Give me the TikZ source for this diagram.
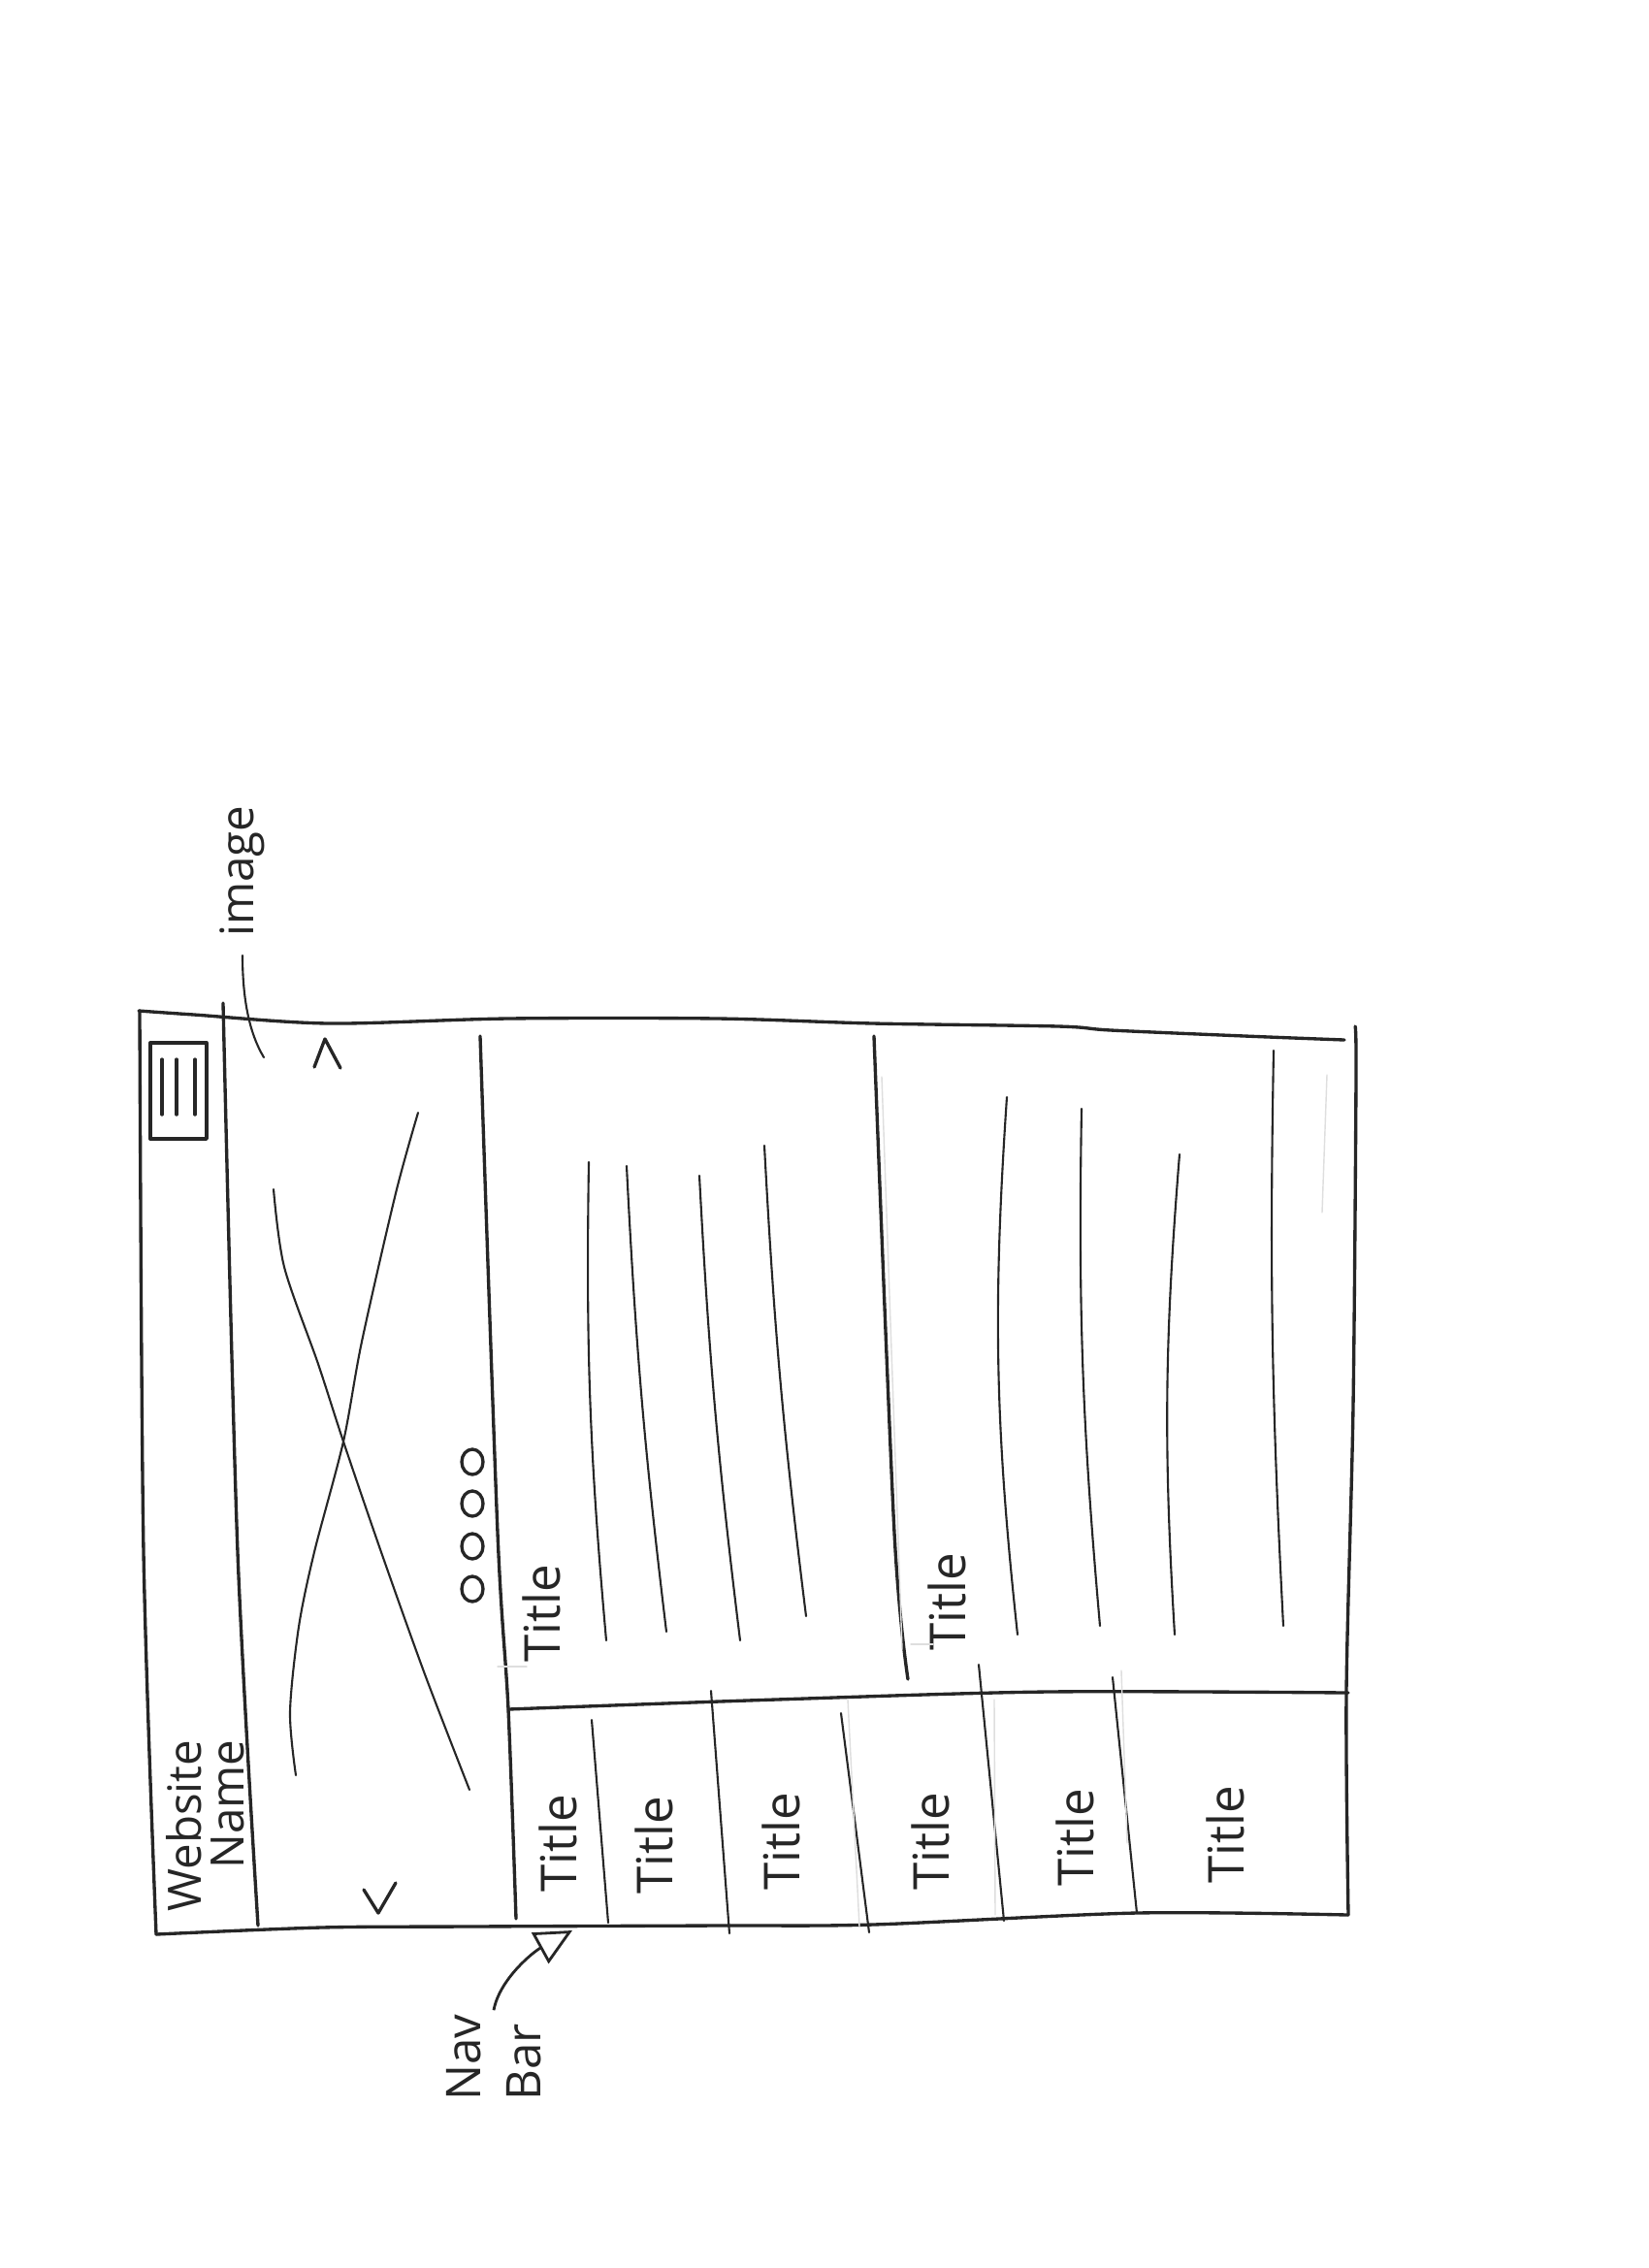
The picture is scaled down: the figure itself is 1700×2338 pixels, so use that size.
\documentclass[tikz,border=0pt]{standalone}
\usepackage{fontspec}
\setmainfont{Open Sans}
\usetikzlibrary{arrows.meta, positioning, calc}

\begin{document}
\begin{tikzpicture}[
            x=0.01cm, y=-0.01cm,
            wf frame/.style ={line width=0.95pt, draw=black!85, line cap=round, line join=round},
            wf line/.style  ={line width=0.6pt, draw=black!85, line cap=round},
            wf guide/.style ={line width=0.4pt, draw=black!13, line cap=round},
            wf text/.style  ={rotate=90, text=black!85, inner sep=1pt, font=\fontsize{14.5}{17}\selectfont},
            arr/.style      ={-{Triangle[open, length=0.38cm, width=0.36cm, line width=0.8pt]}, line width=0.8pt, draw=black!85}
        ]
        \path[use as bounding box, fill=white] (0,0) rectangle (1700,2338);

        %% ---- page frame (hand drawn, slightly wavy) ------------------------
        \draw[wf frame] plot[smooth] coordinates {(143,1042) (200,1046) (339,1055) (523,1050)
            (740,1050) (900,1055) (1091,1058) (1145,1062) (1283,1068) (1386,1072)};
        \draw[wf frame] plot[smooth] coordinates {(1397,1058) (1398,1110) (1395,1450) (1388,1745) (1390,1974)};
        \draw[wf frame] plot[smooth] coordinates {(1390,1974) (1172,1972) (900,1984) (740,1985)
            (480,1986) (331,1987) (161,1994)};
        \draw[wf frame] plot[smooth] coordinates {(161,1994) (148,1600) (144,1042)};

        %% ---- header strip: menu icon + site name ---------------------------
        \draw[wf frame] plot[smooth] coordinates {(230,1034) (245,1600) (266,1985)};
        \draw[wf frame] (155,1075) rectangle (213,1174);
        \foreach \bx in {167,182,201}
            \draw[wf frame] (\bx,1092) -- (\bx,1149);
        \node[wf text, align=right, font=\fontsize{13.5}{12.5}\selectfont] (sitename) at (212,1882) {Website\\Name};

        %% ---- hero image with carousel arrows and dots ----------------------
        \draw[wf frame] plot[smooth] coordinates {(495,1068) (513,1580) (524,1762) (532,1978)};
        \draw[wf line] plot[smooth] coordinates {(431,1147) (408,1230) (373,1383) (354,1486)
            (324,1600) (308,1677) (299,1765) (305,1830)};
        \draw[wf line] plot[smooth] coordinates {(282,1226) (293,1306) (328,1406) (354,1486)
            (393,1600) (438,1726) (484,1845)};
        \draw[wf frame] (324,1100) -- (335,1071) -- (351,1101);
        \draw[wf frame] (375,1948) -- (390,1972) -- (408,1941);
        \foreach \dy in {1507,1550,1594,1638}
            \draw[wf frame] (487,\dy) ellipse [x radius=0.11cm, y radius=0.13cm];

        % label for the hero picture
        \node[wf text, font=\fontsize{13.5}{16}\selectfont] (imglbl) at (250,898) {image};
        \coordinate (heroimg) at (272,1090);
        \draw[wf line, shorten <=0.15cm] (imglbl.west) .. controls (250,1030) and (257,1065) .. (heroimg);

        %% ---- two content columns ------------------------------------------
        \draw[wf frame] plot[smooth] coordinates {(901,1068) (922,1580) (936,1731)};
        \draw[wf frame] plot[smooth] coordinates {(524,1762) (800,1752) (1080,1744) (1390,1745)};
        \node[wf text] (coltitleA) at (558,1663) {Title};
        \node[wf text] (coltitleB) at (976,1651) {Title};

        % text lines, column A
        \draw[wf line] (607,1198) to[bend right=3] (625,1691);
        \draw[wf line] (646,1202) to[bend right=2] (687,1682);
        \draw[wf line] (721,1212) to[bend right=2] (763,1691);
        \draw[wf line] (788,1181) to[bend right=2] (831,1666);
        % text lines, column B
        \draw[wf line] (1038,1131) to[bend right=5] (1049,1685);
        \draw[wf line] (1115,1143) to[bend right=3] (1134,1676);
        \draw[wf line] (1216,1190) to[bend right=4] (1211,1685);
        \draw[wf line] (1313,1083) to[bend right=2] (1323,1676);

        %% ---- nav bar: six tabs --------------------------------------------
        \draw[wf line] (610,1773) -- (627,1982);
        \draw[wf line] (733,1743) -- (752,1993);
        \draw[wf line] (867,1766) -- (896,1992);
        \draw[wf line] (1009,1716) -- (1035,1980);
        \draw[wf line] (1147,1729) -- (1172,1972);
        \node[wf text] (nav1) at (575,1900) {Title};
        \node[wf text] (nav2) at (674,1902) {Title};
        \node[wf text] (nav3) at (805,1898) {Title};
        \node[wf text] (nav4) at (959,1898) {Title};
        \node[wf text] (nav5) at (1108,1894) {Title};
        \node[wf text] (nav6) at (1263,1891) {Title};

        % faint pencil guides left under the ink
        \draw[wf guide] (909,1110) -- (930,1700);
        \draw[wf guide] (1368,1108) -- (1363,1250);
        \draw[wf guide] (874,1752) -- (886,1986);
        \draw[wf guide] (1025,1752) -- (1026,1974);
        \draw[wf guide] (1156,1722) -- (1162,1900);
        \draw[wf guide] (513,1718) -- (543,1718);
        \draw[wf guide] (939,1695) -- (962,1695);

        %% ---- callout for the nav bar --------------------------------------
        \node[wf text, align=left, font=\fontsize{14}{17.6}\selectfont] (navlbl) at (509,2121) {Nav\\Bar};
        \coordinate (navtip) at (590,1990);
        \draw[arr] (navlbl.east) .. controls (515,2040) and (550,2012) .. (navtip);
    \end{tikzpicture}
\end{document}
